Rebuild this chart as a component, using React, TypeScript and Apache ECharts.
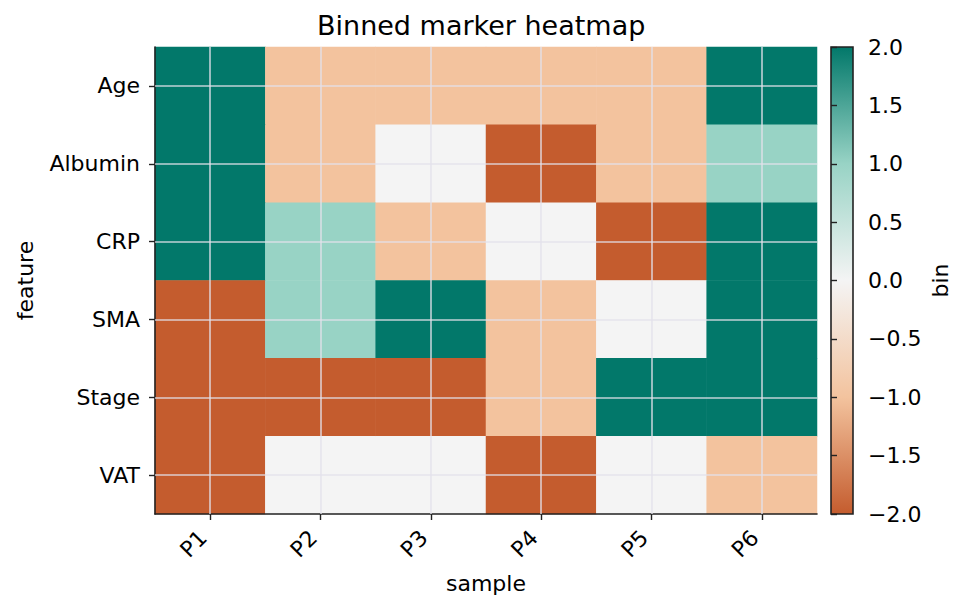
import React, { useEffect, useRef } from "react";
import * as echarts from "echarts";

const samples = ["P1", "P2", "P3", "P4", "P5", "P6"];
const features = ["Age", "Albumin", "CRP", "SMA", "Stage", "VAT"];
// rows follow features, columns follow samples
const binAge = [2, -1, -1, -1, -1, 2];
const binAlbumin = [2, -1, 0, -2, -1, 1];
const binCRP = [2, 1, -1, 0, -2, 2];
const binSMA = [-2, 1, 2, -1, 0, 2];
const binStage = [-2, -2, -2, -1, 2, 2];
const binVAT = [-2, 0, 0, -2, 0, -1];
const binRows = [binAge, binAlbumin, binCRP, binSMA, binStage, binVAT];
const colorMin = -2;
const colorMax = 2;
const colorStep = 0.5;
const cmapColors = ["#c45c2e", "#f3c39e", "#f4f4f4", "#98d3c5", "#02786a"];

const FONT = "DejaVu Sans";

export default function App() {
  const ref = useRef<HTMLDivElement>(null);
  useEffect(() => {
    if (!ref.current) return;
    const chart = echarts.init(ref.current, undefined, { renderer: "svg" });
    const heatData: number[][] = [];
    binRows.forEach((row, yi) => {
      row.forEach((v, xi) => heatData.push([xi, yi, v]));
    });
    const stops = cmapColors
      .slice()
      .reverse()
      .map((c, i) => ({ offset: i / (cmapColors.length - 1), color: c }));
    const fmt = (v: number) => v.toFixed(1).replace("-", "\u2212");
    chart.setOption({
      animation: false,
      backgroundColor: "#ffffff",
      textStyle: { fontFamily: FONT },
      title: {
        text: "Binned marker heatmap",
        left: 312,
        top: 7,
        textStyle: { fontFamily: FONT, fontSize: 27, fontWeight: "normal", color: "#000" },
      },
      grid: [
        { left: 155, top: 47, width: 662, height: 467 },
        { left: 831, top: 47, width: 22, height: 467 },
      ],
      xAxis: [
        {
          type: "category",
          gridIndex: 0,
          data: samples,
          z: 3,
          axisLine: { show: true, lineStyle: { color: "#222", width: 1.6 } },
          axisTick: { show: true, alignWithLabel: true, length: 6, lineStyle: { color: "#222", width: 1.4 } },
          axisLabel: {
            rotate: 45,
            margin: 13,
            padding: [0, 10, 0, 0],
            fontSize: 22,
            color: "#000",
            fontFamily: FONT,
          },
          splitLine: { show: false },
          name: "sample",
          nameLocation: "middle",
          nameGap: 58,
          nameTextStyle: { fontSize: 22, color: "#000", fontFamily: FONT },
        },
        { type: "value", gridIndex: 1, min: 0, max: 1, show: false },
      ],
      yAxis: [
        {
          type: "category",
          gridIndex: 0,
          data: features,
          inverse: true,
          z: 3,
          axisLine: { show: true, lineStyle: { color: "#222", width: 1.6 } },
          axisTick: { show: true, alignWithLabel: true, length: 6, lineStyle: { color: "#222", width: 1.4 } },
          axisLabel: { margin: 15, fontSize: 22, color: "#000", fontFamily: FONT },
          splitLine: { show: false },
          name: "feature",
          nameLocation: "middle",
          nameRotate: 90,
          nameGap: 119,
          nameTextStyle: { fontSize: 22, color: "#000", fontFamily: FONT },
        },
        {
          type: "value",
          gridIndex: 1,
          min: colorMin,
          max: colorMax,
          interval: colorStep,
          position: "right",
          z: 3,
          axisLine: { show: false },
          axisTick: { show: true, length: 6, lineStyle: { color: "#222", width: 1.4 } },
          axisLabel: { margin: 15, fontSize: 22, color: "#000", fontFamily: FONT, formatter: fmt },
          splitLine: { show: false },
          name: "bin",
          nameLocation: "middle",
          nameRotate: 90,
          nameGap: 76,
          nameTextStyle: { fontSize: 22, color: "#000", fontFamily: FONT },
        },
      ],
      visualMap: {
        type: "continuous",
        show: false,
        seriesIndex: 0,
        min: colorMin,
        max: colorMax,
        inRange: { color: cmapColors },
      },
      series: [
        {
          type: "heatmap",
          xAxisIndex: 0,
          yAxisIndex: 0,
          data: heatData,
          emphasis: { disabled: true },
          markLine: {
            silent: true,
            symbol: ["none", "none"],
            label: { show: false },
            lineStyle: { color: "rgba(226,224,234,0.85)", width: 1.6, type: "solid" },
            emphasis: { disabled: true },
            data: [
              ...samples.map((s) => ({ xAxis: s })),
              ...features.map((f) => ({ yAxis: f })),
            ],
          },
        },
        {
          type: "custom",
          xAxisIndex: 1,
          yAxisIndex: 1,
          data: [[0, colorMax, 1, colorMin]],
          silent: true,
          renderItem: (params: any, api: any) => {
            const p1 = api.coord([api.value(0), api.value(1)]);
            const p2 = api.coord([api.value(2), api.value(3)]);
            return {
              type: "rect",
              shape: { x: p1[0], y: p1[1], width: p2[0] - p1[0], height: p2[1] - p1[1] },
              style: {
                fill: new echarts.graphic.LinearGradient(0, 0, 0, 1, stops),
                stroke: "#222",
                lineWidth: 1.6,
              },
            };
          },
        },
      ],
    });
    return () => chart.dispose();
  }, []);
  return (
    <div
      ref={ref}
      style={{ position: "fixed", left: 0, top: 0, width: 970, height: 611 }}
    />
  );
}
